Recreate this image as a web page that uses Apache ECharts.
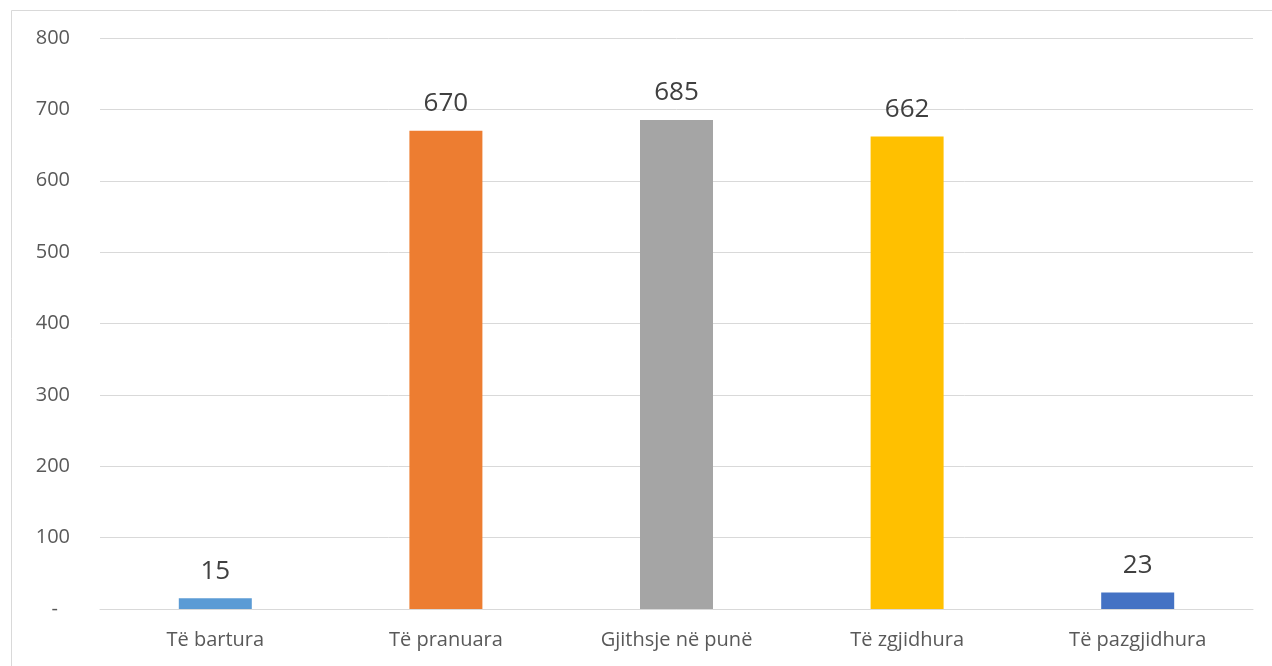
<!DOCTYPE html>
<html><head><meta charset="utf-8">
<script src="https://cdn.jsdelivr.net/npm/echarts@6/dist/echarts.min.js"></script>
<style>html,body{margin:0;padding:0;background:#fff}#c{width:1272px;height:666px}</style>
</head><body><div id="c"></div>
<script>
const categories = ["Të bartura", "Të pranuara", "Gjithsje në punë", "Të zgjidhura", "Të pazgjidhura"];
const values = [15, 670, 685, 662, 23];
const colors = ["#5B9BD5", "#ED7D31", "#A5A5A5", "#FFC000", "#4472C4"];
const yTicks = [0, 100, 200, 300, 400, 500, 600, 700, 800];

const chart = echarts.init(document.getElementById('c'), null, {renderer: 'canvas'});
const font = '"Open Sans", "Liberation Sans", sans-serif';
chart.setOption({
  animation: false,
  backgroundColor: '#fff',
  graphic: [{type: 'rect', shape: {x: 11.5, y: 10.5, width: 1300, height: 700}, style: {fill: 'none', stroke: '#D9D9D9', lineWidth: 1}, silent: true}],
  grid: {left: 100, right: 19, top: 38, bottom: 57},
  xAxis: {
    type: 'category', data: categories,
    axisLine: {lineStyle: {color: '#D9D9D9', width: 1}},
    axisTick: {show: false},
    axisLabel: {color: '#595959', fontSize: 20, fontFamily: font, margin: 21}
  },
  yAxis: {
    type: 'value', min: yTicks[0], max: yTicks[yTicks.length - 1], interval: 100,
    axisLine: {show: false}, axisTick: {show: false},
    splitLine: {lineStyle: {color: '#D9D9D9', width: 1}},
    axisLabel: {color: '#595959', fontSize: 20, fontFamily: font, margin: 30,
      formatter: v => v === 0 ? '{d|-}' : String(v),
      rich: {d: {color: '#595959', fontSize: 20, fontFamily: font, padding: [0, 12, 0, 0]}}}
  },
  series: [{
    type: 'bar', barWidth: 73,
    data: values.map((v, i) => ({value: v, itemStyle: {color: colors[i]}})),
    label: {show: true, position: 'top', distance: 14, color: '#404040', fontSize: 26, fontFamily: font}
  }]
});
</script></body></html>
